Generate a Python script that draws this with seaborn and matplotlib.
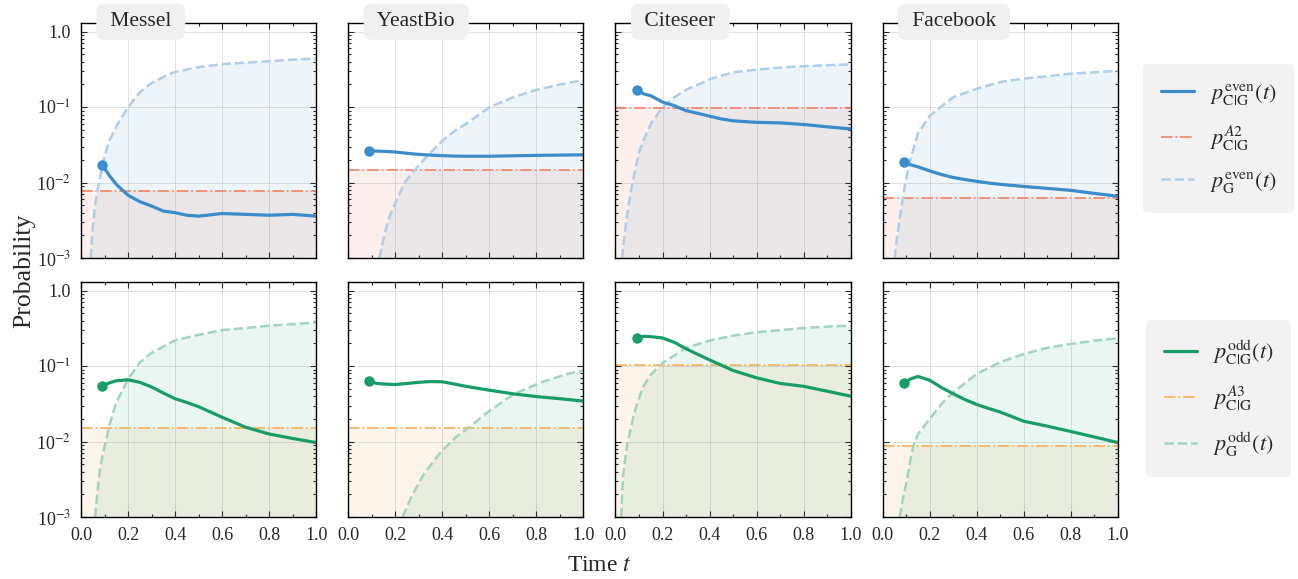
import matplotlib
matplotlib.use("Agg")
import matplotlib.pyplot as plt
import seaborn as sns
from matplotlib.lines import Line2D
from matplotlib.ticker import FixedLocator, FixedFormatter, LogLocator, MultipleLocator, NullFormatter

sns.set_style("ticks")
plt.rcParams.update({
    "font.family": ["Liberation Serif", "DejaVu Serif"],
    "mathtext.fontset": "stix",
    "axes.edgecolor": "black",
    "axes.linewidth": 1.0,
})

datasets = ["Messel", "YeastBio", "Citeseer", "Facebook"]

# p_C|G(t), shared time grid
t_line = [0.09, 0.12, 0.15, 0.2, 0.25, 0.3, 0.35, 0.4, 0.45, 0.5, 0.6, 0.7, 0.8, 0.9, 1.0]
even_messel = [0.0172, 0.0125, 0.0095, 0.0068, 0.0056, 0.0049, 0.0042, 0.0040, 0.0037, 0.0036, 0.0039, 0.0038, 0.0037, 0.0038, 0.0036]
even_yeast = [0.0265, 0.0262, 0.026, 0.0255, 0.0245, 0.0237, 0.0232, 0.0228, 0.0225, 0.0224, 0.0224, 0.0227, 0.023, 0.0232, 0.0234]
even_citeseer = [0.171, 0.150, 0.142, 0.117, 0.105, 0.090, 0.083, 0.076, 0.070, 0.066, 0.063, 0.062, 0.059, 0.055, 0.0515]
even_facebook = [0.019, 0.0172, 0.0162, 0.0143, 0.0128, 0.0117, 0.011, 0.0104, 0.0099, 0.0095, 0.0089, 0.0084, 0.0079, 0.0072, 0.0066]

odd_messel = [0.054, 0.060, 0.064, 0.066, 0.061, 0.053, 0.044, 0.037, 0.033, 0.029, 0.021, 0.0155, 0.0126, 0.011, 0.0097]
odd_yeast = [0.064, 0.059, 0.058, 0.057, 0.059, 0.061, 0.0625, 0.062, 0.058, 0.054, 0.048, 0.043, 0.0395, 0.037, 0.0344]
odd_citeseer = [0.234, 0.249, 0.246, 0.236, 0.207, 0.17, 0.143, 0.121, 0.103, 0.0875, 0.070, 0.059, 0.054, 0.0465, 0.040]
odd_facebook = [0.060, 0.068, 0.073, 0.065, 0.052, 0.043, 0.036, 0.031, 0.0275, 0.0246, 0.0186, 0.016, 0.0136, 0.0115, 0.0097]

# reference levels
a2_levels = [0.0078, 0.0145, 0.098, 0.0063]
a3_levels = [0.015, 0.015, 0.105, 0.0087]

# p_G(t) curves, each on its own time grid
tg_even_messel = [0.041, 0.05, 0.06, 0.07, 0.08, 0.09, 0.1, 0.12, 0.15, 0.2, 0.25, 0.3, 0.35, 0.4, 0.5, 0.6, 0.7, 0.8, 0.9, 1.0]
g_even_messel = [0.001, 0.0025, 0.005, 0.0079, 0.0112, 0.0166, 0.0224, 0.0355, 0.056, 0.1, 0.158, 0.209, 0.251, 0.295, 0.339, 0.372, 0.389, 0.407, 0.427, 0.44]
tg_even_yeast = [0.132, 0.15, 0.17, 0.2, 0.24, 0.3, 0.35, 0.4, 0.45, 0.5, 0.6, 0.7, 0.8, 0.9, 1.0]
g_even_yeast = [0.001, 0.0018, 0.0032, 0.0054, 0.01, 0.017, 0.025, 0.036, 0.048, 0.06, 0.1, 0.135, 0.17, 0.2, 0.23]
tg_even_citeseer = [0.028, 0.04, 0.05, 0.065, 0.08, 0.1, 0.12, 0.15, 0.2, 0.25, 0.3, 0.36, 0.4, 0.5, 0.6, 0.7, 0.8, 0.9, 1.0]
g_even_citeseer = [0.001, 0.0022, 0.0038, 0.0075, 0.013, 0.025, 0.037, 0.06, 0.1, 0.135, 0.17, 0.205, 0.235, 0.29, 0.315, 0.335, 0.35, 0.36, 0.37]
tg_even_facebook = [0.05, 0.06, 0.07, 0.08, 0.096, 0.115, 0.15, 0.2, 0.245, 0.3, 0.4, 0.5, 0.6, 0.7, 0.8, 0.9, 1.0]
g_even_facebook = [0.001, 0.0018, 0.003, 0.0048, 0.01, 0.019, 0.045, 0.077, 0.1, 0.136, 0.176, 0.216, 0.24, 0.257, 0.279, 0.29, 0.305]

tg_odd_messel = [0.06, 0.07, 0.08, 0.09, 0.1, 0.12, 0.15, 0.2, 0.25, 0.3, 0.4, 0.5, 0.6, 0.7, 0.8, 0.9, 1.0]
g_odd_messel = [0.001, 0.0021, 0.0042, 0.0062, 0.0085, 0.016, 0.033, 0.067, 0.112, 0.15, 0.22, 0.26, 0.30, 0.32, 0.344, 0.36, 0.38]
tg_odd_yeast = [0.231, 0.27, 0.323, 0.394, 0.458, 0.512, 0.593, 0.706, 0.82, 0.933, 1.0]
g_odd_yeast = [0.001, 0.0019, 0.0038, 0.0073, 0.0115, 0.0153, 0.0246, 0.043, 0.061, 0.079, 0.0875]
tg_odd_citeseer = [0.024, 0.032, 0.05, 0.08, 0.1, 0.12, 0.15, 0.2, 0.3, 0.4, 0.5, 0.6, 0.7, 0.8, 0.9, 1.0]
g_odd_citeseer = [0.001, 0.0035, 0.0093, 0.024, 0.038, 0.055, 0.077, 0.11, 0.175, 0.218, 0.254, 0.281, 0.30, 0.32, 0.334, 0.344]
tg_odd_facebook = [0.072, 0.085, 0.1, 0.12, 0.13, 0.15, 0.2, 0.25, 0.3, 0.4, 0.5, 0.6, 0.7, 0.8, 0.9, 1.0]
g_odd_facebook = [0.001, 0.0017, 0.0028, 0.0062, 0.0087, 0.0126, 0.02, 0.0316, 0.045, 0.079, 0.113, 0.145, 0.175, 0.197, 0.218, 0.234]

cg = r"\mathrm{C}\,\!|\,\!\mathrm{G}"
rows = [
    dict(lines=[even_messel, even_yeast, even_citeseer, even_facebook],
         levels=a2_levels,
         tg=[tg_even_messel, tg_even_yeast, tg_even_citeseer, tg_even_facebook],
         g=[g_even_messel, g_even_yeast, g_even_citeseer, g_even_facebook],
         main="#3a8ccb", light="#abcfec", ref="#f08b6c",
         labels=[r"$p^{\mathrm{even}}_{%s}(t)$" % cg, r"$p^{A2}_{%s}$" % cg, r"$p^{\mathrm{even}}_{\mathrm{G}}(t)$"]),
    dict(lines=[odd_messel, odd_yeast, odd_citeseer, odd_facebook],
         levels=a3_levels,
         tg=[tg_odd_messel, tg_odd_yeast, tg_odd_citeseer, tg_odd_facebook],
         g=[g_odd_messel, g_odd_yeast, g_odd_citeseer, g_odd_facebook],
         main="#199d68", light="#9ed6c0", ref="#f5b65f",
         labels=[r"$p^{\mathrm{odd}}_{%s}(t)$" % cg, r"$p^{A3}_{%s}$" % cg, r"$p^{\mathrm{odd}}_{\mathrm{G}}(t)$"]),
]

fig, axes = plt.subplots(2, 4, figsize=(12.98, 5.79), dpi=100, sharex=True, sharey=True)
fig.subplots_adjust(left=0.0624, right=0.8613, top=0.960, bottom=0.107, wspace=0.136, hspace=0.102)

floor = 1e-4
for r, row in enumerate(rows):
    for c in range(4):
        ax = axes[r, c]
        ax.set_yscale("log")
        # reference level and its fill
        ax.fill_between([0, 1], floor, row["levels"][c], color=row["ref"], alpha=0.13, lw=0, zorder=0.5)
        ax.axhline(row["levels"][c], color=row["ref"], ls="-.", lw=1.3, zorder=1.8)
        # p_G(t) and its fill
        ax.fill_between(row["tg"][c], floor, row["g"][c], color=row["main"], alpha=0.09, lw=0, zorder=0.6)
        sns.lineplot(x=row["tg"][c], y=row["g"][c], ax=ax, color=row["light"], lw=1.8,
                     linestyle="--", zorder=1.9)
        # p_C|G(t)
        sns.lineplot(x=t_line, y=row["lines"][c], ax=ax, color=row["main"], lw=2.3, zorder=3)
        ax.plot(t_line[0], row["lines"][c][0], "o", color=row["main"], ms=6.5, zorder=3.5)

        ax.set_xlim(0, 1)
        ax.set_ylim(1e-3, 1.3)
        ax.xaxis.set_major_locator(MultipleLocator(0.2))
        ax.xaxis.set_minor_locator(MultipleLocator(0.1))
        ax.yaxis.set_major_locator(FixedLocator([1e-3, 1e-2, 1e-1, 1.0]))
        ax.yaxis.set_major_formatter(FixedFormatter([r"10$^{-3}$", r"10$^{-2}$", r"10$^{-1}$", "1.0"]))
        ax.yaxis.set_minor_locator(LogLocator(base=10, subs=range(2, 10)))
        ax.yaxis.set_minor_formatter(NullFormatter())
        ax.tick_params(which="both", direction="in", top=True, right=True, labelsize=13, width=0.8)
        ax.tick_params(which="major", length=4.5, pad=7)
        ax.tick_params(which="minor", length=2.5)
        ax.grid(True, which="major", color="#888888", alpha=0.28, lw=0.6)
        ax.set_xlabel("")
        ax.set_ylabel("")
        for s in ax.spines.values():
            s.set_visible(True)
            s.set_zorder(4)

        if r == 0:
            ax.text(0.102, 1.006, " " + datasets[c] + " ", transform=ax.transAxes, ha="left", va="center",
                    fontsize=15.5, zorder=10, clip_on=False,
                    bbox=dict(boxstyle="round,pad=0.4", fc="#f0f0f0", ec="none"))

    handles = [Line2D([], [], color=row["main"], lw=2.3),
               Line2D([], [], color=row["ref"], lw=1.3, ls="-."),
               Line2D([], [], color=row["light"], lw=1.8, ls="--")]
    fig.legend(handles, row["labels"], loc="center", bbox_to_anchor=(0.9388, 0.7608 if r == 0 else 0.3117),
               fontsize=16, frameon=True, facecolor="#f2f2f2", edgecolor="none", framealpha=1,
               fancybox=True, handlelength=1.5, labelspacing=0.75, borderpad=0.8, handletextpad=0.7)

fig.text(0.019, 0.532, "Probability", rotation=90, ha="center", va="center", fontsize=18.5)
fig.text(0.462, 0.024, "Time $t$", ha="center", va="center", fontsize=17)

fig.savefig("out.png", dpi=100)
